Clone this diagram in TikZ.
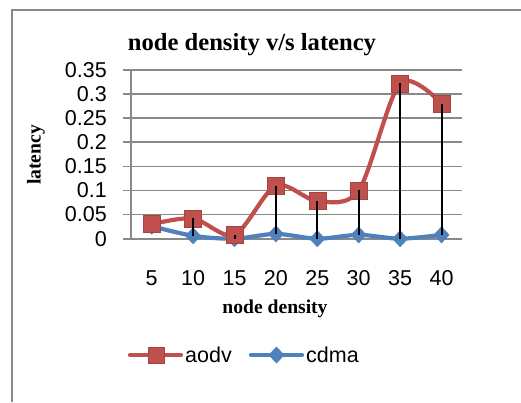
\documentclass[tikz,border=0pt]{standalone}
\usepackage{fontspec}
\setmainfont{Liberation Serif}
\setsansfont{Liberation Sans}
\definecolor{aodvred}{HTML}{C0504D}
\definecolor{cdmablue}{HTML}{4F81BD}
\definecolor{gridgray}{HTML}{898989}
\begin{document}
\begin{tikzpicture}[x=1pt,y=-1pt,
  ticklbl/.style={font=\sffamily\fontsize{21.5}{22}\selectfont, inner sep=0pt},
  axtitle/.style={font=\bfseries\fontsize{19.6}{20}\selectfont, inner sep=0pt},
  gridline/.style={draw=gridgray, line width=1.6pt},
  series/.style={line width=4.2pt, line join=round, line cap=round},
  hilo/.style={draw=black, line width=2pt},
  sqmark/.style={fill=aodvred, draw=aodvred!85!black, line width=0.6pt},
  dmmark/.style={fill=cdmablue}]
\useasboundingbox (0,0) rectangle (521,402);
\fill[white] (0,0) rectangle (521,402);
% outer chart frame (open to the right and bottom)
\draw[gridgray, line width=2pt] (12,402) -- (12,10) -- (521,10);
% chart title
\node[font=\bfseries\fontsize{24.6}{25}\selectfont, inner sep=0pt, anchor=base] (title) at (252,50) {node density v/s latency};
% horizontal gridlines and value labels
\foreach \v/\l [count=\k from 0] in {0/0,0.05/0.05,0.1/0.1,0.15/0.15,0.2/0.2,0.25/0.25,0.3/0.3,0.35/0.35} {
  \pgfmathsetmacro\yy{238.7-482.3*\v}
  \draw[gridline] (123,\yy) -- (462,\yy);
  \node[ticklbl, anchor=east] (ylab\k) at (107,\yy) {\l};
}
% value axis
\draw[gridline] (131,70) -- (131,238.7);
% category labels
\foreach \n [count=\i from 0] in {5,10,15,20,25,30,35,40} {
  \node[ticklbl] (xlab\i) at (151.7+41.4*\i,278) {\n};
}
% axis titles
\node[axtitle, anchor=base] (xtitle) at (275,313) {node density};
\node[axtitle, anchor=base, rotate=90] (ytitle) at (40.5,155) {latency};
% data series
\begin{scope}[shift={(151.7,238.7)}, x=41.4pt, y=482.3pt]
  \foreach \v [count=\i from 0] in {0.03,0.042,0.008,0.11,0.078,0.1,0.322,0.28}
    \coordinate (a\i) at (\i,\v);
  \foreach \v [count=\i from 0] in {0.026,0.006,0.0,0.01,0.0,0.008,0.0,0.008}
    \coordinate (c\i) at (\i,\v);
  % cdma
  \draw[series, cdmablue] plot[smooth, tension=0.5] coordinates {(c0) (c1) (c2) (c3) (c4) (c5) (c6) (c7)};
  \foreach \i in {0,...,7}
    \path[dmmark] (c\i) +(0pt,8.5pt) -- +(8pt,0pt) -- +(0pt,-8.5pt) -- +(-8pt,0pt) -- cycle;
  % aodv
  \draw[series, aodvred] plot[smooth, tension=0.5] coordinates {(a0) (a1) (a2) (a3) (a4) (a5) (a6) (a7)};
  \foreach \i in {0,...,7}
    \path[sqmark] (a\i) +(-8.5pt,-8.5pt) rectangle +(8.5pt,8.5pt);
  % high-low lines
  \foreach \i in {1,...,7}
    \draw[hilo] (a\i) -- (c\i);
\end{scope}
% legend
\coordinate (la1) at (130,355);
\coordinate (la2) at (181,355);
\coordinate (lam) at (156,355);
\draw[series, aodvred] (la1) -- (la2);
\path[sqmark] (lam) +(-8pt,-8pt) rectangle +(8pt,8pt);
\node[ticklbl, anchor=base west] (leg1) at (185,362.5) {aodv};
\coordinate (lc1) at (251,355);
\coordinate (lc2) at (302,355);
\coordinate (lcm) at (276.5,355);
\draw[series, cdmablue] (lc1) -- (lc2);
\path[dmmark] (lcm) +(0pt,8.5pt) -- +(8pt,0pt) -- +(0pt,-8.5pt) -- +(-8pt,0pt) -- cycle;
\node[ticklbl, anchor=base west] (leg2) at (306,362.5) {cdma};
\end{tikzpicture}
\end{document}
